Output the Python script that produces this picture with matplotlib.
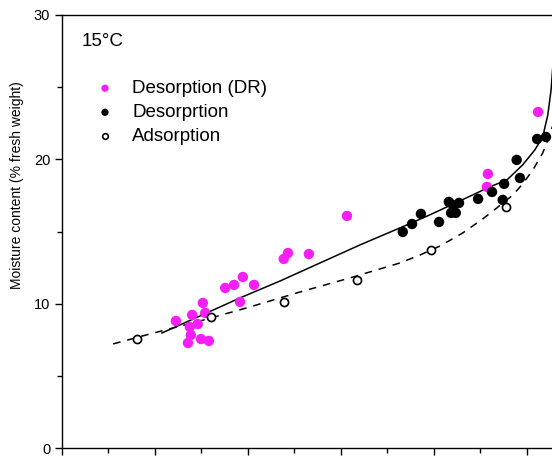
import matplotlib
matplotlib.use('Agg')
import matplotlib.pyplot as plt
from matplotlib.ticker import MultipleLocator

plt.rcParams['font.family'] = ['Liberation Sans', 'DejaVu Sans']

# water activity (x) and moisture content (% fresh weight)
dr_aw = [0.245, 0.280, 0.303, 0.308, 0.292, 0.275, 0.277, 0.271, 0.299, 0.316,
         0.351, 0.370, 0.389, 0.413, 0.383, 0.477, 0.486, 0.531, 0.613,
         0.914, 0.916, 1.024]
dr_mc = [8.80, 9.22, 10.05, 9.36, 8.59, 8.39, 7.83, 7.28, 7.55, 7.42,
         11.09, 11.30, 11.85, 11.30, 10.12, 13.10, 13.51, 13.44, 16.08,
         18.09, 18.99, 23.28]

des_aw = [0.733, 0.753, 0.772, 0.811, 0.832, 0.837, 0.847, 0.854, 0.841,
          0.895, 0.925, 0.951, 0.985, 0.978, 1.022, 1.041, 0.948]
des_mc = [14.97, 15.52, 16.22, 15.66, 17.05, 16.29, 16.29, 16.98, 16.84,
          17.26, 17.74, 18.30, 18.71, 19.96, 21.41, 21.55, 17.19]

ads_aw = [0.161, 0.320, 0.477, 0.634, 0.794, 0.955]
ads_mc = [7.55, 9.08, 10.12, 11.64, 13.72, 16.70]

# fitted isotherms
fit_des_aw = [0.215, 0.297, 0.383, 0.469, 0.555, 0.641, 0.727, 0.791, 0.856,
              0.920, 0.957, 0.991, 1.017, 1.034, 1.045, 1.052, 1.056]
fit_des_mc = [7.97, 9.15, 10.40, 11.57, 12.82, 14.07, 15.25, 16.15, 17.12,
              18.09, 18.57, 19.62, 20.65, 21.55, 23.08, 24.81, 26.54]

fit_ads_aw = [0.110, 0.189, 0.297, 0.404, 0.512, 0.619, 0.727, 0.770, 0.813,
              0.862, 0.905, 0.927, 0.970, 0.991, 1.013, 1.034, 1.047, 1.056]
fit_ads_mc = [7.21, 7.90, 8.80, 9.77, 10.81, 11.78, 12.82, 13.37, 13.99,
              14.90, 15.87, 16.42, 17.53, 18.30, 19.27, 20.44, 21.48, 22.38]

fig = plt.figure(figsize=(5.52, 4.57), dpi=100)
ax = fig.add_axes([62/552, 9/457, 490/552, 433/457])

ax.plot(fit_des_aw, fit_des_mc, color='black', lw=1.1, zorder=2)
ax.plot(fit_ads_aw, fit_ads_mc, color='black', lw=1.1, ls=(0, (5, 4.5)), zorder=2)

ax.scatter(dr_aw, dr_mc, s=56, color='#f51ef5', edgecolors='none', zorder=3,
           label='Desorption (DR)')
ax.scatter(des_aw, des_mc, s=56, color='black', edgecolors='none', zorder=3,
           label='Desorprtion')
ax.scatter(ads_aw, ads_mc, s=34, facecolors='white', edgecolors='black',
           linewidths=1.2, zorder=4, label='Adsorption')

ax.set_xlim(0, 1.054)
ax.set_ylim(0, 30)
ax.xaxis.set_major_locator(MultipleLocator(0.2))
ax.xaxis.set_minor_locator(MultipleLocator(0.1))
ax.yaxis.set_major_locator(MultipleLocator(10))
ax.yaxis.set_minor_locator(MultipleLocator(5))
ax.tick_params(which='both', direction='out', width=1.0, labelsize=10.5)
ax.tick_params(which='major', length=5)
ax.tick_params(which='minor', length=3.5)
ax.tick_params(axis='x', labelbottom=False)
ax.spines['right'].set_visible(False)
for s in ['left', 'bottom', 'top']:
    ax.spines[s].set_linewidth(1.0)

fig.text(17/552, 1 - 185/457, 'Moisture content (% fresh weight)',
         rotation=90, ha='center', va='center', fontsize=10)
fig.text(82/552, 1 - 42/457, '15\u00b0C', ha='left', va='center', fontsize=13.5)

ax.legend(loc='upper left', bbox_to_anchor=(95.6/552, 1 - 80/457),
          bbox_transform=fig.transFigure, frameon=False, fontsize=13.5,
          handlelength=1.0, handletextpad=0.95, labelspacing=0.37,
          borderpad=0, borderaxespad=0, markerscale=0.7, scatterpoints=1)

fig.savefig('out.png', dpi=100)
